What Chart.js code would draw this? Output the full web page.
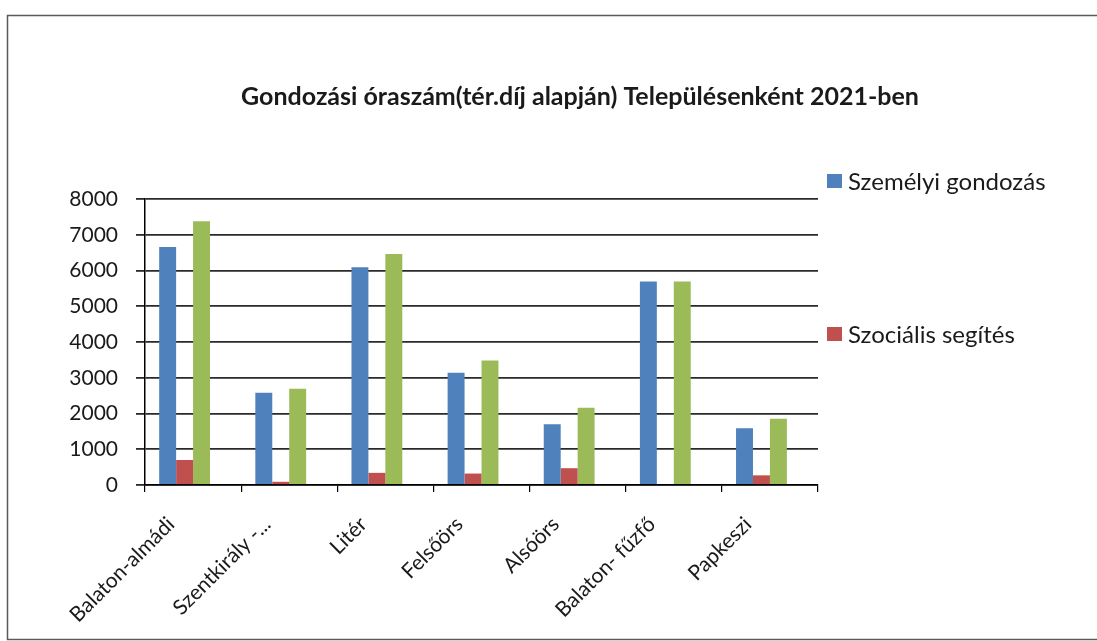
<!DOCTYPE html>
<html>
<head>
<meta charset="utf-8">
<script src="https://cdn.jsdelivr.net/npm/chart.js@4.4.0/dist/chart.umd.min.js"></script>
<style>
  html, body { margin: 0; padding: 0; background: #ffffff; }
  #wrap { width: 1097px; height: 641px; position: relative; }
</style>
</head>
<body>
<div id="wrap"><canvas id="c" width="1097" height="641"></canvas></div>
<script>
// ---- data ----
const categories = ['Balaton-almádi', 'Szentkirály -...', 'Litér', 'Felsőörs', 'Alsóörs', 'Balaton- fűzfő', 'Papkeszi'];
const szemelyiGondozas = [6660, 2580, 6090, 3140, 1700, 5690, 1590];
const szocialisSegites = [700, 90, 340, 320, 470, 0, 270];
const osszesen = [7380, 2690, 6460, 3480, 2160, 5690, 1850];
const ures = [null, null, null, null, null, null, null];
const yTicks = [0, 1000, 2000, 3000, 4000, 5000, 6000, 7000, 8000];
const titleText = 'Gondozási óraszám(tér.díj alapján) Településenként 2021-ben';

const FONT = 'Lato, "Open Sans", sans-serif';

const decor = {
  id: 'decor',
  beforeDraw(chart) {
    const ctx = chart.ctx;
    ctx.save();
    ctx.fillStyle = '#ffffff';
    ctx.fillRect(0, 0, chart.width, chart.height);
    ctx.strokeStyle = '#5a5a5a';
    ctx.lineWidth = 1.5;
    ctx.strokeRect(7.5, 15.5, 1200, 624);
    ctx.restore();
  },
  afterDraw(chart) {
    const ctx = chart.ctx;
    ctx.save();
    // title
    ctx.fillStyle = '#1a1a1a';
    ctx.font = 'bold 25px ' + FONT;
    ctx.textAlign = 'center';
    ctx.textBaseline = 'middle';
    ctx.fillText(titleText, 580, 97);
    // legend (two visible entries)
    const entries = [0, 1];
    const ys = [181, 334];
    ctx.font = '24px ' + FONT;
    ctx.textAlign = 'left';
    entries.forEach((di, i) => {
      const ds = chart.data.datasets[di];
      ctx.fillStyle = ds.backgroundColor;
      ctx.fillRect(827, ys[i] - 7, 15, 14);
      ctx.fillStyle = '#1a1a1a';
      ctx.fillText(ds.label, 848, ys[i] + 1);
    });
    ctx.restore();
  }
};

new Chart(document.getElementById('c'), {
  type: 'bar',
  data: {
    labels: categories,
    datasets: [
      { label: 'Személyi gondozás', data: szemelyiGondozas, backgroundColor: '#4f81bd' },
      { label: 'Szociális segítés', data: szocialisSegites, backgroundColor: '#c0504d' },
      { label: 'Összesen', data: osszesen, backgroundColor: '#9bbb59' },
      { label: '', data: ures, backgroundColor: '#8064a2' }
    ]
  },
  options: {
    responsive: false,
    animation: false,
    layout: { padding: { top: 199, right: 279, bottom: 0, left: 0 } },
    datasets: { bar: { categoryPercentage: 0.705, barPercentage: 1.0 } },
    plugins: {
      legend: { display: false },
      title: { display: false },
      tooltip: { enabled: false }
    },
    scales: {
      x: {
        offset: true,
        grid: { display: true, drawOnChartArea: false, drawTicks: true, tickLength: 7, offset: true, color: '#000000', lineWidth: 1.2 },
        border: { display: true, color: '#000000', width: 1.5 },
        ticks: { minRotation: 45, maxRotation: 45, autoSkip: false, color: '#1a1a1a', font: { family: FONT, size: 21 }, padding: 20, labelOffset: -22 },
        afterFit(scale) { scale.height = 641 - 485; }
      },
      y: {
        min: 0, max: 8000,
        afterBuildTicks(scale) { scale.ticks = yTicks.map(v => ({ value: v })); },
        grid: { color: '#2a2a2a', lineWidth: 1.8, tickLength: 9, drawTicks: true },
        border: { display: true, color: '#000000', width: 1.5 },
        ticks: { color: '#1a1a1a', font: { family: FONT, size: 21 }, padding: 18, callback: (v) => String(v) },
        afterFit(scale) { scale.width = 145; }
      }
    }
  },
  plugins: [decor]
});
</script>
</body>
</html>
